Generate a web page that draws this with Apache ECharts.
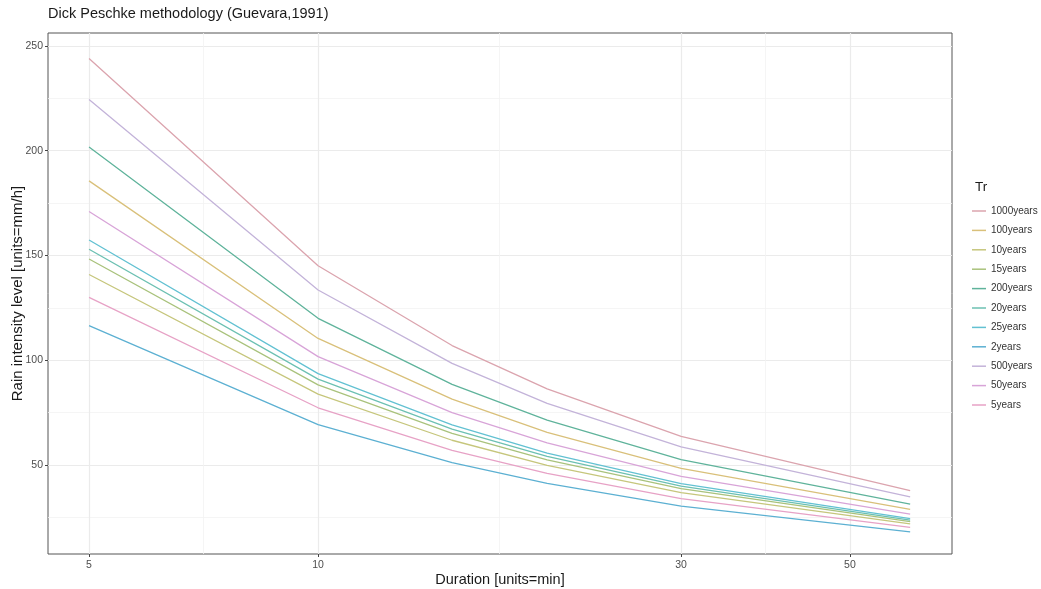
<!DOCTYPE html>
<html>
<head>
<meta charset="utf-8">
<script src="https://cdn.jsdelivr.net/npm/echarts@6/dist/echarts.min.js"></script>
<style>html,body{margin:0;padding:0;background:#fff}#c{width:1041px;height:589px}</style>
</head>
<body>
<div id="c"></div>
<script>
// Durations (min)
const durations = [5, 10, 15, 20, 30, 60];
// Return periods (legend order)
const returnPeriods = ['1000years','100years','10years','15years','200years','20years','25years','2years','500years','50years','5years'];
// Intensity values (mm/h) per return period, one per duration
const y1000 = [244.0, 145.1, 107.0, 86.3, 63.7, 37.8];
const y100  = [185.6, 110.4, 81.4, 65.6, 48.4, 28.8];
const y10   = [140.9, 83.8, 61.8, 49.8, 36.8, 21.9];
const y15   = [148.3, 88.2, 65.1, 52.4, 38.7, 23.0];
const y200  = [201.8, 120.0, 88.5, 71.4, 52.6, 31.3];
const y20   = [153.0, 91.0, 67.1, 54.1, 39.9, 23.7];
const y25   = [157.4, 93.6, 69.1, 55.7, 41.1, 24.4];
const y2    = [116.5, 69.3, 51.1, 41.2, 30.4, 18.1];
const y500  = [224.5, 133.5, 98.5, 79.4, 58.6, 34.8];
const y50   = [171.0, 101.7, 75.0, 60.5, 44.6, 26.5];
const y5    = [130.0, 77.3, 57.0, 46.0, 33.9, 20.2];
const seriesValues = [y1000, y100, y10, y15, y200, y20, y25, y2, y500, y50, y5];
// Tick labels
const xTicks = [5, 10, 30, 50];
const yTicks = [50, 100, 150, 200, 250];

const colors = ['#dba4ae','#d9c07a','#c6c67c','#a9c27c','#5fb39b','#6cc0b2','#62c1d2','#5cb0d2','#c3b3d9','#d8a4d8','#e7a2c6'];

// minor gridlines (midpoints in transformed space)
const xMinor = [];
for (let i = 0; i < xTicks.length - 1; i++) xMinor.push(Math.sqrt(xTicks[i] * xTicks[i+1]));
const yMinor = [25, 75, 125, 175, 225];

const font = 'Liberation Sans, Arial, sans-serif';
const xMin = 4.416, xMax = 68.1, yMin = 7.5, yMax = 256.2;

const series = returnPeriods.map((name, i) => ({
  name: name,
  type: 'line',
  xAxisIndex: 0,
  yAxisIndex: 0,
  showSymbol: false,
  symbol: 'none',
  silent: true,
  lineStyle: { width: 1.3, color: colors[i] },
  itemStyle: { color: colors[i] },
  data: durations.map((d, j) => [d, seriesValues[i][j]])
}));

const chart = echarts.init(document.getElementById('c'), null, { renderer: 'canvas' });
chart.setOption({
  animation: false,
  backgroundColor: '#fff',
  title: [
    { text: 'Dick Peschke methodology (Guevara,1991)', left: 48, top: 6, padding: 0,
      textStyle: { fontFamily: font, fontSize: 14.5, fontWeight: 'normal', color: '#1a1a1a' } },
    { text: 'Tr', left: 975, top: 180, padding: 0,
      textStyle: { fontFamily: font, fontSize: 13.5, fontWeight: 'normal', color: '#1a1a1a' } }
  ],
  legend: {
    orient: 'vertical',
    left: 972,
    top: 206,
    icon: 'rect',
    itemWidth: 14,
    itemHeight: 1.5,
    itemGap: 9.4,
    padding: 0,
    textStyle: { fontFamily: font, fontSize: 10, color: '#333' },
    data: returnPeriods
  },
  grid: {
    left: 48, right: 89, top: 33, bottom: 35,
    containLabel: false, outerBoundsMode: 'none',
    show: true, borderColor: '#555', borderWidth: 1, backgroundColor: 'transparent'
  },
  xAxis: [
    {
      type: 'log', logBase: 10, min: xMin, max: xMax,
      name: 'Duration [units=min]', nameLocation: 'middle', nameGap: 18, nameMoveOverlap: false,
      nameTextStyle: { fontFamily: font, fontSize: 14.5, color: '#1a1a1a' },
      axisLine: { show: false },
      axisTick: { show: true, length: 3, lineStyle: { color: '#444' }, customValues: xTicks },
      axisLabel: { fontFamily: font, fontSize: 10.5, color: '#4d4d4d', margin: 6, customValues: xTicks },
      splitLine: { show: true, lineStyle: { color: '#ebebeb', width: 1.2 } },
      minorTick: { show: false }, minorSplitLine: { show: false }
    },
    {
      type: 'log', logBase: 10, min: xMin, max: xMax, position: 'bottom',
      axisLine: { show: false },
      axisTick: { show: false, customValues: xMinor },
      axisLabel: { show: false, customValues: xMinor },
      splitLine: { show: true, lineStyle: { color: '#f3f3f3', width: 0.8 } }
    }
  ],
  yAxis: [
    {
      type: 'value', min: yMin, max: yMax,
      name: 'Rain intensity level [units=mm/h]', nameLocation: 'middle', nameGap: 23, nameMoveOverlap: false,
      nameTextStyle: { fontFamily: font, fontSize: 15, color: '#1a1a1a' },
      axisLine: { show: false },
      axisTick: { show: true, length: 3, lineStyle: { color: '#444' }, customValues: yTicks },
      axisLabel: { fontFamily: font, fontSize: 10.5, color: '#4d4d4d', margin: 5, customValues: yTicks },
      splitLine: { show: true, lineStyle: { color: '#ebebeb', width: 1.2 } }
    },
    {
      type: 'value', min: yMin, max: yMax, position: 'left',
      axisLine: { show: false },
      axisTick: { show: false, customValues: yMinor },
      axisLabel: { show: false, customValues: yMinor },
      splitLine: { show: true, lineStyle: { color: '#f3f3f3', width: 0.8 } }
    }
  ],
  series: series
});
</script>
</body>
</html>
